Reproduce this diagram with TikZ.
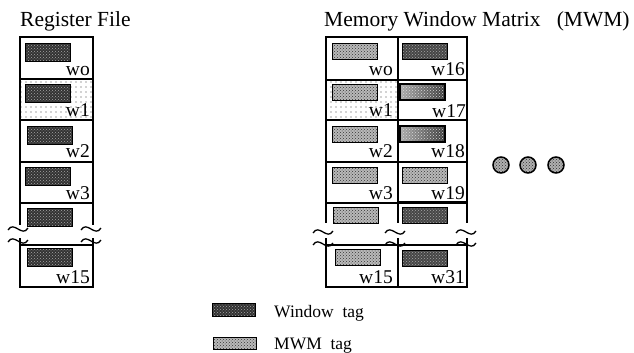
\documentclass[tikz,border=0pt]{standalone}
\usepackage{fontspec}
\setmainfont{Liberation Serif}
\usetikzlibrary{patterns}

% sparse dot grid for the highlighted row
\pgfdeclarepatternformonly{sparsedots}{\pgfpoint{-1pt}{-1pt}}{\pgfpoint{6pt}{6pt}}{\pgfpoint{5pt}{5pt}}{%
  \pgfpathcircle{\pgfpoint{1pt}{1pt}}{0.55pt}\pgfusepath{fill}}

\tikzset{
  cell/.style={line width=1.4pt, line cap=rect},
  thickrule/.style={line width=2.6pt},
  wtag/.style={draw=black, line width=0.9pt, preaction={fill=black!80},
    pattern=crosshatch dots, pattern color=gray!70,
    minimum width=45pt, minimum height=18pt, inner sep=0pt, anchor=north west},
  mtag/.style={draw=black, line width=1.2pt, preaction={fill=gray!55},
    pattern=crosshatch dots, pattern color=gray!40!black,
    minimum width=45pt, minimum height=16pt, inner sep=0pt, anchor=north west},
  mtagdark/.style={mtag, preaction={fill=gray!55!black}, pattern color=gray!70},
  mtagsplit/.style={mtag, line width=1.6pt, preaction={left color=gray!65, right color=gray!45!black},
    pattern color=gray!30},
  lbl/.style={font=\fontsize{19.5}{22}\selectfont, anchor=base east, inner sep=0pt},
  ttl/.style={font=\fontsize{21.5}{24}\selectfont, anchor=base west, inner sep=0pt},
  leg/.style={font=\fontsize{17.5}{20}\selectfont, anchor=base west, inner sep=0pt},
  brk/.style={line width=1.3pt},
  dotbg/.style={pattern=sparsedots, pattern color=black!75},
  ell/.style={circle, draw=black, line width=1.5pt, minimum size=16pt, inner sep=0pt,
    preaction={fill=gray!62}, pattern=crosshatch dots, pattern color=gray!35!black},
}

\newcommand{\breakmark}[2]{%
  \draw[brk] (#1-10,#2+1) .. controls (#1-4,#2-9) and (#1+4,#2+9) .. (#1+10,#2-1);}

\begin{document}
\begin{tikzpicture}[x=1pt, y=-1pt]
\useasboundingbox (0,0) rectangle (634,353);

% ---------------- titles
\node[ttl] (rftitle) at (20,27) {Register File};
\node[ttl] (mwmtitle) at (324,27) {Memory Window Matrix\ \ \ (MWM)};

% ---------------- register file
\fill[dotbg] (20,79) rectangle (93,120);
\draw[cell] (20,203) -- (20,37) -- (93,37) -- (93,203);
\foreach \yy in {79,120,162,203} \draw[cell] (20,\yy) -- (93,\yy);
\draw[cell] (20,203) -- (20,224);
\draw[cell] (93,203) -- (93,224);
\draw[cell] (20,239) -- (20,287) -- (93,287) -- (93,239);
\draw[cell] (20,245) -- (93,245);

\node[wtag] (rft0) at (25,43) {};
\node[wtag] (rft1) at (25,84) {};
\node[wtag] (rft2) at (27,126) {};
\node[wtag] (rft3) at (25,167) {};
\node[wtag] (rft4) at (27,208) {};
\node[wtag] (rft15) at (27,248) {};

\node[lbl] (rfl0) at (90,75) {wo};
\node[lbl] (rfl1) at (90,116) {w1};
\node[lbl] (rfl2) at (90,157) {w2};
\node[lbl] (rfl3) at (90,199) {w3};
\node[lbl] (rfl15) at (90,283) {w15};

\breakmark{18}{229}
\breakmark{18}{241}
\breakmark{91}{229}
\breakmark{91}{241}

% ---------------- memory window matrix
\fill[dotbg] (326,80) rectangle (398,120);
\draw[cell] (326,203) -- (326,37) -- (467,37) -- (467,203);
\draw[cell] (398,37) -- (398,203);
\foreach \yy in {80,120,162,203} \draw[cell] (326,\yy) -- (467,\yy);
\draw[thickrule] (398,120) -- (467,120);
\draw[thickrule] (398,202) -- (467,202);
\foreach \xx in {326,398,467} \draw[cell] (\xx,203) -- (\xx,222);
\foreach \xx in {326,398,467} \draw[cell] (\xx,239) -- (\xx,287);
\draw[cell] (326,287) -- (467,287);
\draw[line width=2pt] (326,245) -- (467,245);

\node[mtag] (ma0) at (332,43) {};
\node[mtag] (ma1) at (332,84) {};
\node[mtag] (ma2) at (332,126) {};
\node[mtag] (ma3) at (332,167) {};
\node[mtag] (ma4) at (333,207) {};
\node[mtag] (ma15) at (335,249) {};

\node[mtagdark] (mb16) at (402,43) {};
\node[mtagsplit] (mb17) at (399,83) {};
\node[mtagsplit] (mb18) at (399,125) {};
\node[mtag] (mb19) at (402,167) {};
\node[mtagdark] (mb20) at (402,207) {};
\node[mtagdark] (mb31) at (402,250) {};

\node[lbl] (mal0) at (393,75) {wo};
\node[lbl] (mal1) at (393,116) {w1};
\node[lbl] (mal2) at (393,157) {w2};
\node[lbl] (mal3) at (393,199) {w3};
\node[lbl] (mal15) at (393,283) {w15};
\node[lbl] (mbl16) at (465,75) {w16};
\node[lbl] (mbl17) at (466,117) {w17};
\node[lbl] (mbl18) at (465,157) {w18};
\node[lbl] (mbl19) at (465,199) {w19};
\node[lbl] (mbl31) at (465,283) {w31};

\breakmark{323}{232}
\breakmark{323}{244}
\breakmark{395}{232}
\breakmark{395}{244}
\breakmark{466}{232}
\breakmark{466}{244}

% ---------------- ellipsis
\node[ell] (dot1) at (501,165) {};
\node[ell] (dot2) at (528,165) {};
\node[ell] (dot3) at (556,165) {};

% ---------------- legend
\node[wtag, minimum height=13pt, minimum width=43pt] (legw) at (212,303) {};
\node[leg] (legwtxt) at (274,317) {Window\ \ tag};
\node[mtag, minimum height=12pt, minimum width=43pt] (legm) at (213,337) {};
\node[leg] (legmtxt) at (274,349) {MWM\ \ tag};
\end{tikzpicture}
\end{document}
